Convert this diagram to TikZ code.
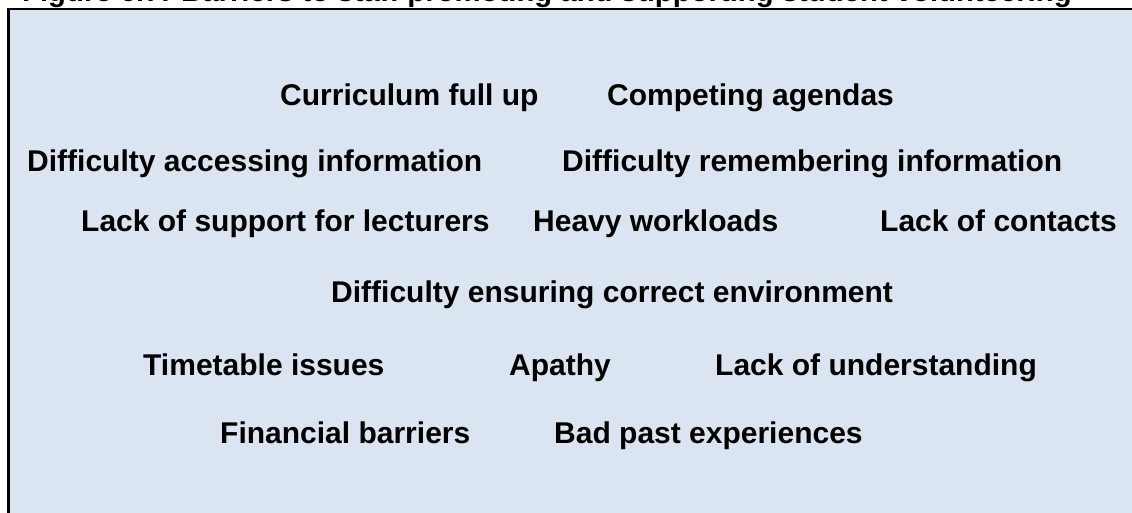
\documentclass[tikz,border=0pt]{standalone}
\usepackage{fontspec}
\setmainfont{Liberation Sans}
\definecolor{panelfill}{HTML}{DBE5F1}
\begin{document}
\begin{tikzpicture}[x=1pt,y=-1pt,
  barrier/.style={anchor=base west,inner sep=0pt,font=\fontsize{30}{36}\selectfont\bfseries},
  heading/.style={anchor=base west,inner sep=0pt,font=\fontsize{29.3}{35}\selectfont\bfseries}]
\useasboundingbox (0,0) rectangle (1132,513);
\begin{scope}
\clip (0,0) rectangle (1132,513);
% shaded panel, only its top and left edges fall inside the page
\fill[panelfill] (8.5,9) rectangle (1140,520);
\draw[line width=2.5pt] (8.5,520) -- (8.5,9) -- (1140,9);
% heading, mostly cut off above the panel
\node[heading] (title) at (22,2) {Figure 6.7: Barriers to staff promoting and supporting student volunteering};
\end{scope}
% barriers, row by row
\node[barrier] (curr) at (280,106) {Curriculum full up};
\node[barrier] (comp) at (607,106) {Competing agendas};
\node[barrier] (access) at (27,172) {Difficulty accessing information};
\node[barrier] (remem) at (562,172) {Difficulty remembering information};
\node[barrier] (support) at (81,231) {Lack of support for lecturers};
\node[barrier] (heavy) at (533,231) {Heavy workloads};
\node[barrier] (contacts) at (880,231) {Lack of contacts};
\node[barrier] (environ) at (331,302) {Difficulty ensuring correct environment};
\node[barrier] (timetable) at (143,375) {Timetable issues};
\node[barrier] (apathy) at (509,375) {Apathy};
\node[barrier] (underst) at (715,375) {Lack of understanding};
\node[barrier] (finance) at (220,443) {Financial barriers};
\node[barrier] (badpast) at (554,443) {Bad past experiences};
\end{tikzpicture}
\end{document}
